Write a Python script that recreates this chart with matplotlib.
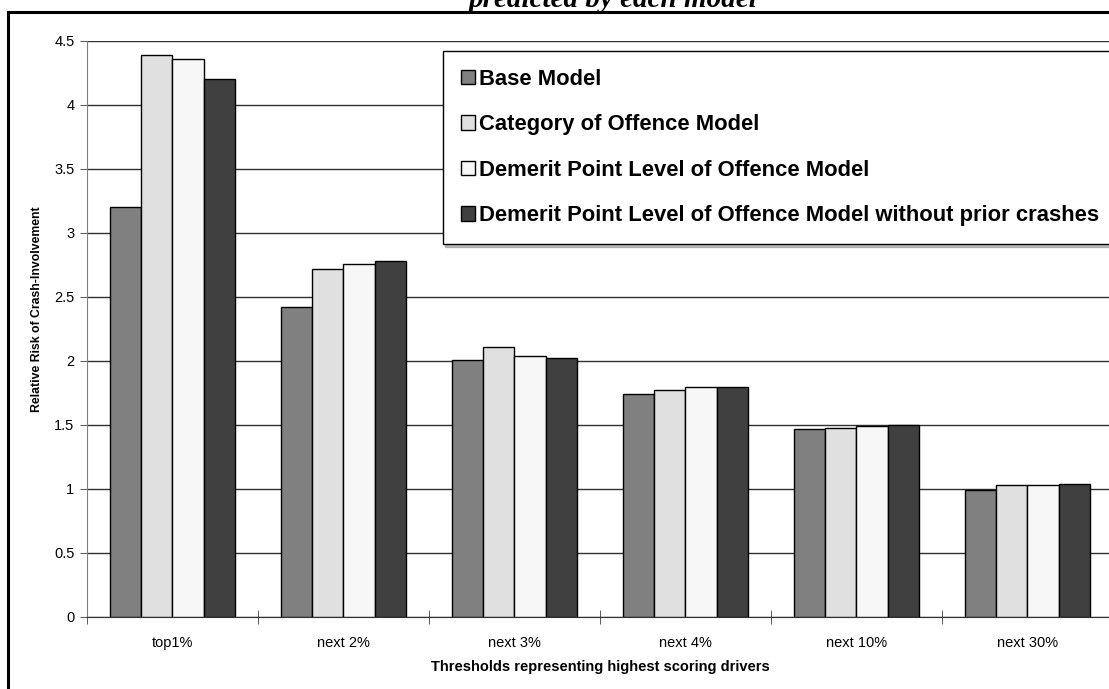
import matplotlib.pyplot as plt
import matplotlib.patches as patches
import numpy as np

# relative risk of crash involvement per threshold group
thresholds = ['top1%', 'next 2%', 'next 3%', 'next 4%', 'next 10%', 'next 30%']
base_model = [3.20, 2.42, 2.01, 1.74, 1.47, 0.99]
category_model = [4.39, 2.72, 2.11, 1.77, 1.48, 1.03]
demerit_model = [4.36, 2.76, 2.04, 1.80, 1.49, 1.03]
demerit_no_prior = [4.20, 2.78, 2.02, 1.80, 1.50, 1.04]

series_names = ['Base Model',
                'Category of Offence Model',
                'Demerit Point Level of Offence Model',
                'Demerit Point Level of Offence Model without prior crashes']
series_values = [base_model, category_model, demerit_model, demerit_no_prior]
series_colors = ['#808080', '#e0e0e0', '#f7f7f7', '#404040']

plt.rcParams['font.family'] = ['Liberation Sans', 'DejaVu Sans']

fig = plt.figure(figsize=(11.09, 6.89), dpi=100)
ax = fig.add_axes([0.0784, 0.1045, 0.9252, 0.836])

barWidth = 0.1825
groupStart = (1 - 4 * barWidth) / 2
x = np.arange(len(thresholds))

handles = []
for i, (name, values, color) in enumerate(zip(series_names, series_values, series_colors)):
    h = ax.bar(x + groupStart + i * barWidth, values, width=barWidth, align='edge',
               color=color, edgecolor='black', linewidth=1, label=name, zorder=3)
    handles.append(h)

ax.set_xlim(0, len(thresholds))
ax.set_ylim(0, 4.5)
ax.set_yticks(np.arange(0, 4.51, 0.5))
ax.set_yticklabels(['%g' % v for v in np.arange(0, 4.51, 0.5)], fontsize=10.5)
ax.yaxis.grid(True, color='#303030', linewidth=1, zorder=0)
ax.set_axisbelow(True)

# labels sit between the boundary ticks
ax.set_xticks(x + 0.5)
ax.set_xticklabels(thresholds, fontsize=10.5)
ax.tick_params(axis='x', which='major', length=0, pad=14)
ax.set_xticks(np.arange(0, len(thresholds) + 1), minor=True)
ax.tick_params(axis='x', which='minor', direction='inout', length=10, color='#404040')
ax.tick_params(axis='y', length=5, color='#606060', pad=4)

for side in ['top', 'right']:
    ax.spines[side].set_visible(False)
ax.spines['left'].set_color('#808080')
ax.spines['bottom'].set_color('#303030')

ax.set_xlabel('Thresholds representing highest scoring drivers', fontsize=10.5,
              fontweight='bold', labelpad=7)
ax.set_ylabel('Relative Risk of Crash-Involvement', fontsize=8.8, fontweight='bold')
ax.yaxis.set_label_coords(-0.0425, 0.535)

leg = ax.legend(handles=handles, loc='upper left', bbox_to_anchor=(0.3995, 0.926),
                bbox_transform=fig.transFigure, fontsize=15.8, frameon=True,
                fancybox=False, shadow={'ox': 1.5, 'oy': -2, 'color': '#808080'},
                edgecolor='black', handlelength=0.64, handleheight=0.64,
                handletextpad=0.2, labelspacing=1.12, borderpad=0.8, borderaxespad=0)
leg.get_frame().set_linewidth(1)
for t in leg.get_texts():
    t.set_fontweight('bold')

# chart title running off the top edge
fig.text(0.552, 0.9898, 'predicted by each model', ha='center', va='baseline',
         fontsize=21, fontweight='bold', fontstyle='italic', family='Liberation Serif')

# outer chart frame
frame = patches.Rectangle((7.5 / 1109, -0.1), 1.2, (689 - 12) / 689 + 0.1,
                          transform=fig.transFigure, fill=False, edgecolor='black',
                          linewidth=2.2, clip_on=False)
fig.patches.append(frame)

fig.savefig('out.png', dpi=100)
